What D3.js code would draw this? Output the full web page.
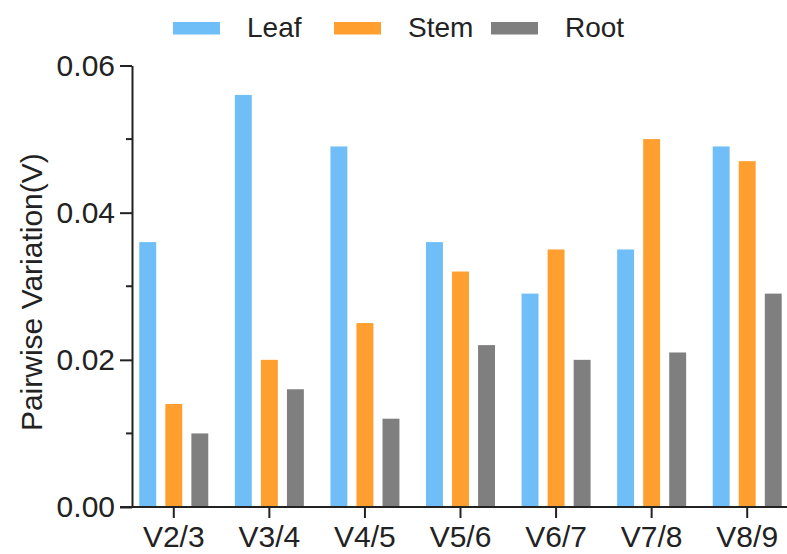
<!DOCTYPE html>
<html>
<head>
<meta charset="utf-8">
<script src="https://cdn.jsdelivr.net/npm/d3@7"></script>
<style>
  body { margin: 0; background: #fff; }
  text { font-family: Arial, "Liberation Sans", Helvetica, sans-serif; fill: #222; }
</style>
</head>
<body>
<div id="chart"></div>
<script>
const w = 787
const h = 554
const categories = ['V2/3', 'V3/4', 'V4/5', 'V5/6', 'V6/7', 'V7/8', 'V8/9']
const series = ['Leaf', 'Stem', 'Root']
const leafValues = [0.036, 0.056, 0.049, 0.036, 0.029, 0.035, 0.049]
const stemValues = [0.014, 0.020, 0.025, 0.032, 0.035, 0.050, 0.047]
const rootValues = [0.010, 0.016, 0.012, 0.022, 0.020, 0.021, 0.029]
const yTicks = [0, 0.02, 0.04, 0.06]
const yMinorTicks = [0.01, 0.03, 0.05]
const colors = { Leaf: '#70bef7', Stem: '#ff9f2f', Root: '#7f7f7f' }

const valuesBySeries = { Leaf: leafValues, Stem: stemValues, Root: rootValues }
const rows = categories.map((c, i) => ({
    cat: c,
    vals: series.map(s => ({ key: s, value: valuesBySeries[s][i] }))
}))

const axisX = 132
const svg = d3.select('#chart')
    .append('svg')
    .attr('width', w)
    .attr('height', h)

const x0 = d3.scaleBand()
    .domain(categories)
    .range([126, 795])
    .padding(0)

const x1 = d3.scaleBand()
    .domain(series)
    .range([-34.5, 34.5])
    .paddingInner(0.35)
    .paddingOuter(0)

const y = d3.scaleLinear()
    .domain([0, 0.06])
    .range([507, 65.5])

// bars
svg.append('g')
    .selectAll('g')
    .data(rows)
    .enter()
    .append('g')
    .attr('transform', d => 'translate(' + (x0(d.cat) + x0.bandwidth() / 2) + ',0)')
    .selectAll('rect')
    .data(d => d.vals)
    .enter()
    .append('rect')
    .attr('x', d => x1(d.key))
    .attr('width', x1.bandwidth())
    .attr('y', d => y(d.value))
    .attr('height', d => y(0) - y(d.value))
    .attr('fill', d => colors[d.key])

// y axis
const yAxis = d3.axisLeft(y)
    .tickValues(yTicks)
    .tickFormat(d3.format('.2f'))
    .tickSize(12)
    .tickSizeOuter(0)
    .tickPadding(5)

const gy = svg.append('g')
    .attr('transform', 'translate(' + axisX + ',0)')
    .call(yAxis)
gy.select('.domain').attr('stroke', '#222').attr('stroke-width', 2)
gy.selectAll('.tick line').attr('stroke', '#222').attr('stroke-width', 2)
gy.selectAll('.tick text').style('font-size', '30px').attr('fill', '#222')

gy.selectAll('.minor')
    .data(yMinorTicks)
    .enter()
    .append('line')
    .attr('class', 'minor')
    .attr('x1', -6)
    .attr('x2', 0)
    .attr('y1', d => y(d))
    .attr('y2', d => y(d))
    .attr('stroke', '#222')
    .attr('stroke-width', 2)

// x axis
const xAxis = d3.axisBottom(x0)
    .tickSize(11)
    .tickSizeOuter(0)
    .tickPadding(8)

const gx = svg.append('g')
    .attr('transform', 'translate(0,' + y(0) + ')')
    .call(xAxis)
gx.select('.domain').remove()
gx.selectAll('.tick line').attr('stroke', '#222').attr('stroke-width', 2)
gx.selectAll('.tick text').style('font-size', '30px').attr('fill', '#222')

gx.append('line')
    .attr('x1', 120)
    .attr('x2', w)
    .attr('y1', 0)
    .attr('y2', 0)
    .attr('stroke', '#222')
    .attr('stroke-width', 2)

// y label
svg.append('text')
    .attr('transform', 'translate(42,' + y(0.0292) + ') rotate(-90)')
    .attr('text-anchor', 'middle')
    .style('font-size', '30px')
    .text('Pairwise Variation(V)')

// legend
const legendX = [173, 334, 491]
const legend = svg.append('g')
    .selectAll('g')
    .data(series)
    .enter()
    .append('g')
    .attr('transform', (d, i) => 'translate(' + legendX[i] + ',22)')

legend.append('rect')
    .attr('width', 47)
    .attr('height', 12.5)
    .attr('fill', d => colors[d])

legend.append('text')
    .attr('x', 74)
    .attr('y', 15)
    .style('font-size', '28px')
    .text(d => d)
</script>
</body>
</html>
